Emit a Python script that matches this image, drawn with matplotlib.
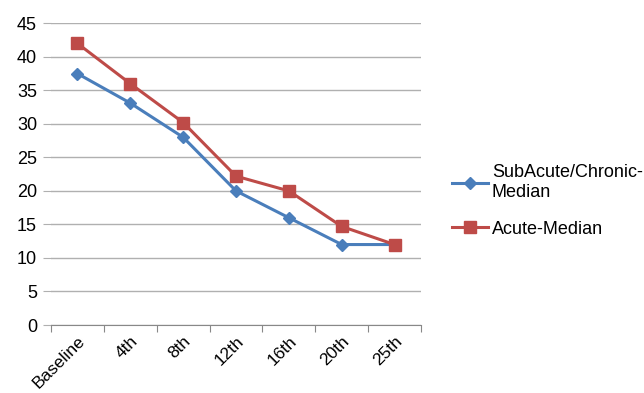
import matplotlib.pyplot as plt

plt.rcParams['font.family'] = ['Liberation Sans', 'DejaVu Sans']

weeks = ['Baseline', '4th', '8th', '12th', '16th', '20th', '25th']
subacute_median = [37.5, 33.1, 28.0, 20.0, 16.0, 12.0, 12.0]
acute_median = [42.0, 36.0, 30.2, 22.2, 20.0, 14.7, 12.0]

fig = plt.figure(figsize=(6.44, 3.93), dpi=100)
ax = fig.add_axes([51 / 644, 1 - 325 / 393, 370 / 644, (325 - 23.3) / 393])

x = range(len(weeks))
ax.plot(x, subacute_median, color='#4A7EBB', lw=2.2, marker='D', ms=6.5,
        label='SubAcute/Chronic-\nMedian', zorder=3)
ax.plot(x, acute_median, color='#BE4B48', lw=2.2, marker='s', ms=9,
        label='Acute-Median', zorder=3)

ax.set_xlim(-0.5, len(weeks) - 0.5)
ax.set_ylim(0, 45)
ax.set_yticks(range(0, 46, 5))
ax.set_xticks([i - 0.5 for i in range(len(weeks) + 1)], minor=False)
ax.set_xticklabels([])
ax.set_xticks(list(x), minor=True)
ax.set_xticklabels(weeks, minor=True, rotation=45, ha='right',
                   rotation_mode='anchor', fontsize=12.5)
ax.tick_params(axis='x', which='minor', length=0, pad=6)
ax.tick_params(axis='x', which='major', length=5, color='#888888')
ax.tick_params(axis='y', length=6, color='#b0b0b0', labelsize=13, pad=4)

ax.grid(axis='y', color='#b0b0b0', lw=1)
ax.set_axisbelow(True)
for s in ['top', 'right', 'left']:
    ax.spines[s].set_visible(False)
ax.spines['bottom'].set_color('#888888')

fig.legend(loc='center left', bbox_to_anchor=(436 / 644, 1 - 201 / 393),
           frameon=False, fontsize=13, handlelength=2.0, labelspacing=1.1,
           handletextpad=0.2)

fig.savefig('out.png', dpi=100)
